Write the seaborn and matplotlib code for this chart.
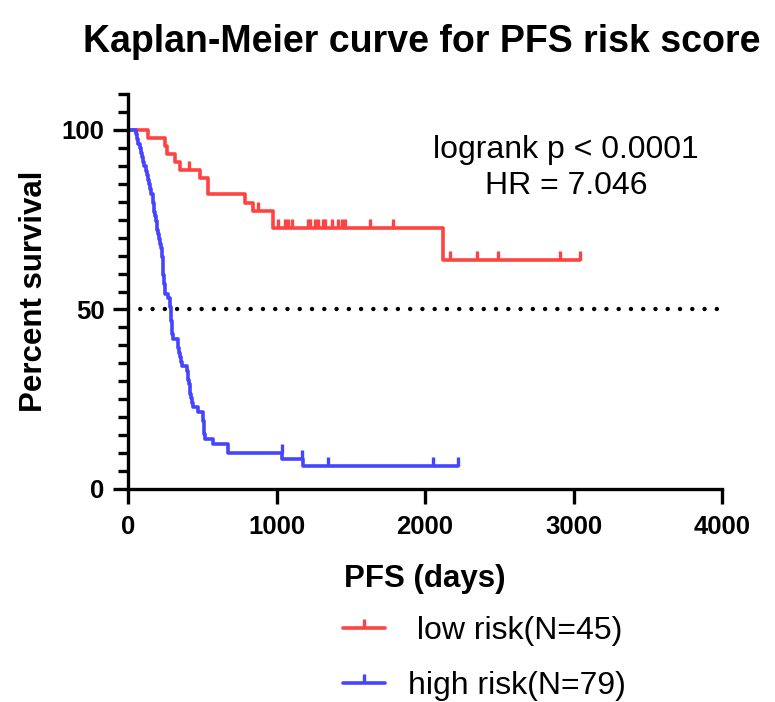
import numpy as np
import pandas as pd
import matplotlib
matplotlib.use("Agg")
import matplotlib.pyplot as plt
from matplotlib.lines import Line2D
from matplotlib.markers import TICKUP
from matplotlib.ticker import MultipleLocator
import seaborn as sns

# ---- data: progression-free survival in days ----
low_label = " low risk(N=45)"
high_label = "high risk(N=79)"

low_event_days = [135, 250, 265, 316, 350, 485, 540, 540, 790, 843, 975, 975, 2121]
low_censor_days = [410, 875,
                   1010, 1057, 1077, 1104, 1104, 1212, 1226, 1226, 1259, 1279, 1279,
                   1313, 1327, 1327, 1374, 1414, 1414, 1441, 1461, 1461, 1630, 1785, 1785,
                   2168, 2168, 2350, 2492, 2909, 3044, 3044]

high_event_days = [55, 62, 70, 80,
                   88, 95, 102, 110, 118, 126, 135,
                   142, 150, 158, 166,
                   170, 174, 178, 182, 186,
                   192, 198, 204, 210, 216, 222, 229,
                   231, 233, 235, 237, 239, 241, 244, 247, 250,
                   268, 283,
                   285, 287, 289, 291, 293, 295, 298, 302,
                   337,
                   340, 345, 350, 355, 362,
                   397, 401, 405, 409, 415,
                   419, 425, 432,
                   438, 471,
                   505, 507, 509, 511, 514, 517,
                   572,
                   673, 673,
                   1037, 1178]
high_censor_days = [1035, 1035, 1175, 1347, 2054, 2222]

groups = [low_label, high_label]
colors = {low_label: "#FF4242", high_label: "#4545FF"}

x_ticks = [0, 1000, 2000, 3000, 4000]
y_ticks = [0, 50, 100]
p_text = "logrank p < 0.0001"
hr_text = "HR = 7.046"


def kaplan_meier(events, censors):
    """Return the KM step table and the survival level at each censoring time."""
    n_risk = len(events) + len(censors)
    surv = 100.0
    steps = [(0.0, surv)]
    level_at = {}
    for t in sorted(set(events) | set(censors)):
        d = events.count(t)
        c = censors.count(t)
        if d:
            surv *= (n_risk - d) / n_risk
            steps.append((t, surv))
        level_at[t] = surv
        n_risk -= d + c
    last = max(events + censors)
    if steps[-1][0] != last:
        steps.append((last, surv))
    ticks = [(t, level_at[t]) for t in sorted(set(censors))]
    return steps, ticks


curve_rows, tick_rows = [], []
for name, ev, ce in [(low_label, low_event_days, low_censor_days),
                     (high_label, high_event_days, high_censor_days)]:
    steps, ticks = kaplan_meier(ev, ce)
    curve_rows += [{"days": t, "survival": s, "group": name} for t, s in steps]
    tick_rows += [{"days": t, "survival": s, "group": name} for t, s in ticks]

curves = pd.DataFrame(curve_rows)
censor_marks = pd.DataFrame(tick_rows)

# ---- figure ----
sns.set_style("ticks")
plt.rcParams["font.family"] = ["Liberation Sans", "DejaVu Sans"]
plt.rcParams.update({"text.color": "black", "axes.labelcolor": "black",
                     "xtick.color": "black", "ytick.color": "black",
                     "axes.edgecolor": "black"})

fig = plt.figure(figsize=(7.75, 7.02), dpi=100)
ax = fig.add_axes([128 / 775, 1 - 489 / 702, 594 / 775, 395 / 702])

lw = 2.6
sns.lineplot(data=curves, x="days", y="survival", hue="group", hue_order=groups,
             palette=colors, estimator=None, drawstyle="steps-post",
             linewidth=lw, legend=False, ax=ax)

for name in groups:
    sub = censor_marks[censor_marks["group"] == name]
    ax.plot(sub["days"], sub["survival"], linestyle="none", marker=TICKUP,
            markersize=6.5, markeredgewidth=2.4, color=colors[name])

# median reference line
ax.axhline(50, color="black", linewidth=3.2, linestyle=(0, (0.01, 2.75)),
           dash_capstyle="round", zorder=1)

ax.set_xlim(0, 4000)
ax.set_ylim(0, 110)
ax.set_xticks(x_ticks)
ax.set_yticks(y_ticks)
ax.yaxis.set_minor_locator(MultipleLocator(5))

for side in ["top", "right"]:
    ax.spines[side].set_visible(False)
for side in ["left", "bottom"]:
    ax.spines[side].set_linewidth(2.4)
    ax.spines[side].set_color("black")

ax.tick_params(axis="x", which="major", length=11, width=2.4, pad=8,
               labelsize=18.5, colors="black")
ax.tick_params(axis="y", which="major", length=11, width=2.4, pad=6,
               labelsize=18.5, colors="black")
ax.tick_params(axis="y", which="minor", length=7, width=2.4, colors="black")
for lab in ax.get_xticklabels() + ax.get_yticklabels():
    lab.set_fontweight("bold")

ax.set_xlabel("PFS (days)", fontsize=22.5, fontweight="bold", labelpad=18)
ax.set_ylabel("Percent survival", fontsize=22.5, fontweight="bold", labelpad=9)
ax.set_title("Kaplan-Meier curve for PFS risk score", fontsize=27,
             fontweight="bold", pad=30, x=0.495)

ax.text(2950, 94.4, p_text, ha="center", va="center", fontsize=23)
ax.text(2950, 84.4, hr_text, ha="center", va="center", fontsize=23)

handles = [Line2D([], [], color=colors[g], linewidth=lw, marker=TICKUP,
                  markersize=6.5, markeredgewidth=2.4) for g in groups]
fig.legend(handles, groups, loc="upper left",
           bbox_to_anchor=(343 / 775, 1 - 616 / 702), frameon=False,
           fontsize=23, handlelength=1.3, handletextpad=0.75,
           labelspacing=0.78, borderpad=0, borderaxespad=0, numpoints=1)

fig.savefig("out.png", dpi=100, facecolor="white")
